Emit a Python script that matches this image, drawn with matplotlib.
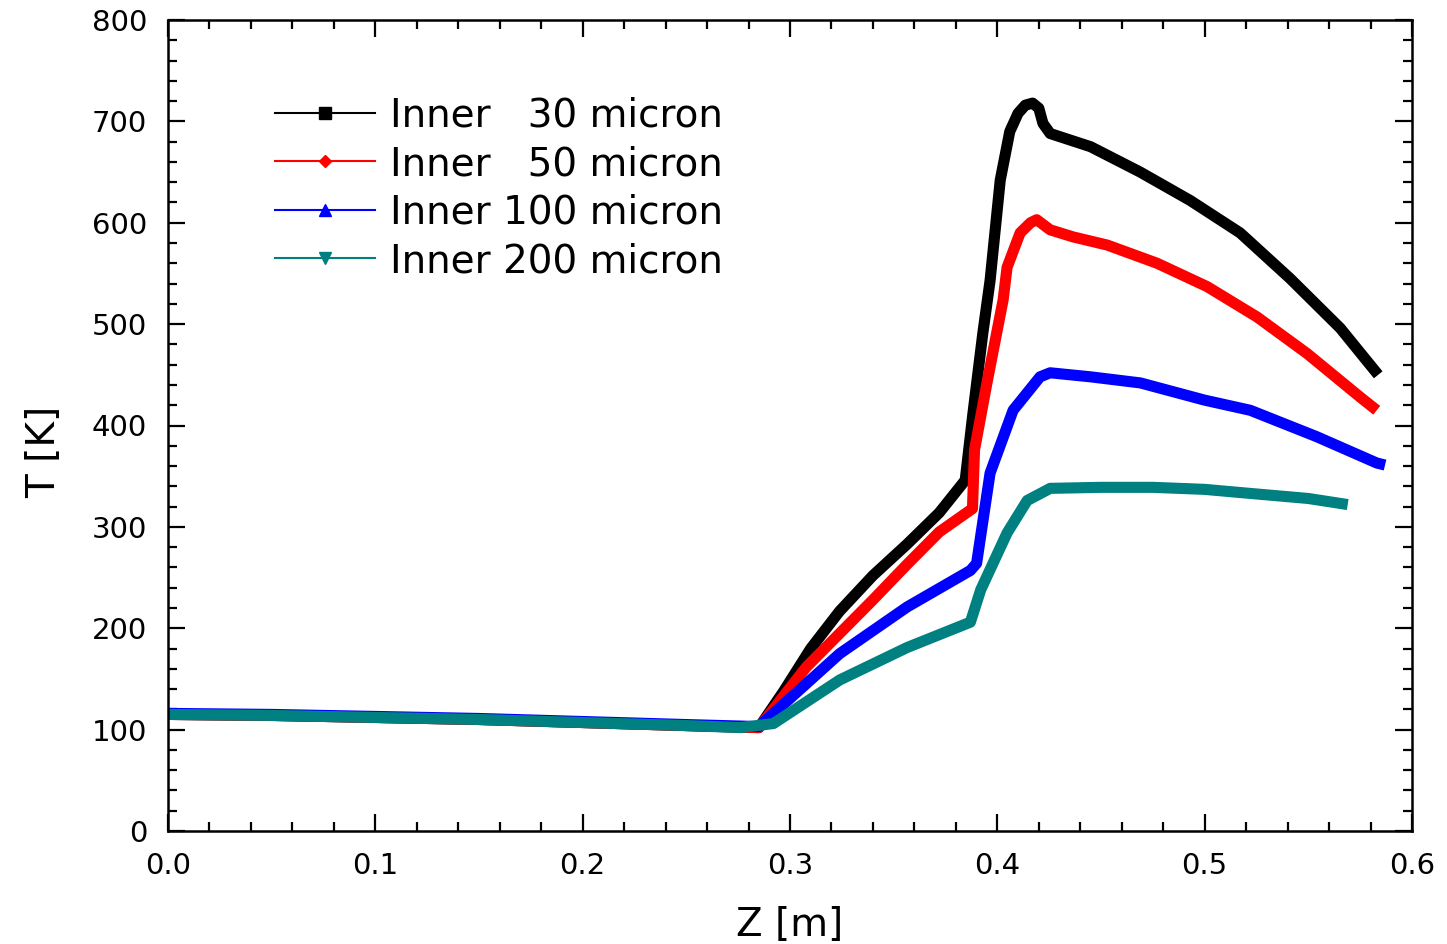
import matplotlib
matplotlib.use("Agg")
import matplotlib.pyplot as plt
from matplotlib.lines import Line2D
from matplotlib.ticker import MultipleLocator

plt.rcParams['font.family'] = ['DejaVu Sans']

# ---- data ----
labels = ["Inner   30 micron", "Inner   50 micron", "Inner 100 micron", "Inner 200 micron"]
colors = ["#000000", "#FF0000", "#0000FF", "#008080"]
markers = ["s", "D", "^", "v"]

z30 = [0.0, 0.05, 0.10, 0.15, 0.20, 0.25, 0.285, 0.297, 0.31, 0.324, 0.34, 0.3565, 0.372,
       0.3845, 0.388, 0.393, 0.3965, 0.4014, 0.406, 0.410, 0.4135, 0.417, 0.4200, 0.422,
       0.4255, 0.445, 0.4689, 0.4930, 0.5171, 0.5412, 0.5654, 0.5837]
t30 = [115, 114, 112, 110, 107, 104, 102, 138, 180, 217, 252, 283, 314,
       346, 408, 491, 543, 642, 690, 708, 716, 718, 713, 698,
       688, 675, 650, 622, 590, 545, 496, 450]

z50 = [0.0, 0.05, 0.10, 0.15, 0.20, 0.25, 0.285, 0.308, 0.324, 0.340, 0.356, 0.372, 0.388,
       0.389, 0.395, 0.4028, 0.4047, 0.411, 0.416, 0.419, 0.4255, 0.4366, 0.453, 0.4771,
       0.5012, 0.5253, 0.5494, 0.5750, 0.583]
t50 = [115, 114, 112, 110, 107, 104, 102, 162, 195, 228, 262, 295, 318,
       376, 442, 524, 556, 590, 600, 603, 593, 586, 578, 560,
       537, 507, 471, 428, 415]

z100 = [0.0, 0.05, 0.10, 0.15, 0.20, 0.25, 0.285, 0.292, 0.324, 0.3565, 0.387, 0.390,
        0.3965, 0.4076, 0.4206, 0.4255, 0.445, 0.469, 0.50, 0.522, 0.554, 0.583, 0.587]
t100 = [116, 115, 113, 111, 108, 105, 103, 116, 175, 221, 257, 264,
        353, 415, 448, 452, 448, 442, 425, 415, 389, 363, 361]

z200 = [0.0, 0.05, 0.10, 0.15, 0.20, 0.25, 0.276, 0.292, 0.324, 0.3565, 0.387, 0.392,
        0.4047, 0.4144, 0.4255, 0.45, 0.475, 0.50, 0.522, 0.55, 0.569]
t200 = [115, 114, 112, 110, 107, 104, 102, 106, 149, 181, 206, 238,
        294, 326, 338, 339, 339, 337, 333, 328, 322]

series_z = [z30, z50, z100, z200]
series_t = [t30, t50, t100, t200]

# ---- figure ----
fig = plt.figure(figsize=(14.47, 9.44), dpi=100)
ax = fig.add_axes([168 / 1447, 1 - 831 / 944, (1412 - 168) / 1447, (831 - 20) / 944])

for z, t, c in zip(series_z, series_t, colors):
    ax.plot(z, t, color=c, lw=8, solid_joinstyle='round', solid_capstyle='butt')

ax.set_xlim(0, 0.6)
ax.set_ylim(0, 800)
ax.xaxis.set_major_locator(MultipleLocator(0.1))
ax.xaxis.set_minor_locator(MultipleLocator(0.02))
ax.yaxis.set_major_locator(MultipleLocator(100))
ax.yaxis.set_minor_locator(MultipleLocator(20))
ax.xaxis.set_major_formatter(matplotlib.ticker.FormatStrFormatter('%.1f'))

ax.tick_params(which='both', direction='in', top=True, right=True, width=1.6, colors='black')
ax.tick_params(which='major', length=12, pad=15, labelsize=21)
ax.tick_params(which='minor', length=6.5)
for s in ax.spines.values():
    s.set_linewidth(1.8)

ax.set_xlabel("Z [m]", fontsize=28)
ax.set_ylabel("T [K]", fontsize=28)
ax.xaxis.set_label_coords(0.5, -0.093)
ax.yaxis.set_label_coords(-0.0844, 0.467)

handles = [Line2D([], [], color=c, lw=1.5, marker=m, markersize=(6 if m == 'D' else 8))
           for c, m in zip(colors, markers)]
ax.legend(handles, labels, loc='upper left', bbox_to_anchor=(0.086, 0.9056),
          frameon=False, fontsize=28, handlelength=2.57, handletextpad=0.39,
          labelspacing=0.27, borderpad=0, borderaxespad=0, numpoints=1)

fig.savefig("out.png", dpi=100, facecolor='white')
